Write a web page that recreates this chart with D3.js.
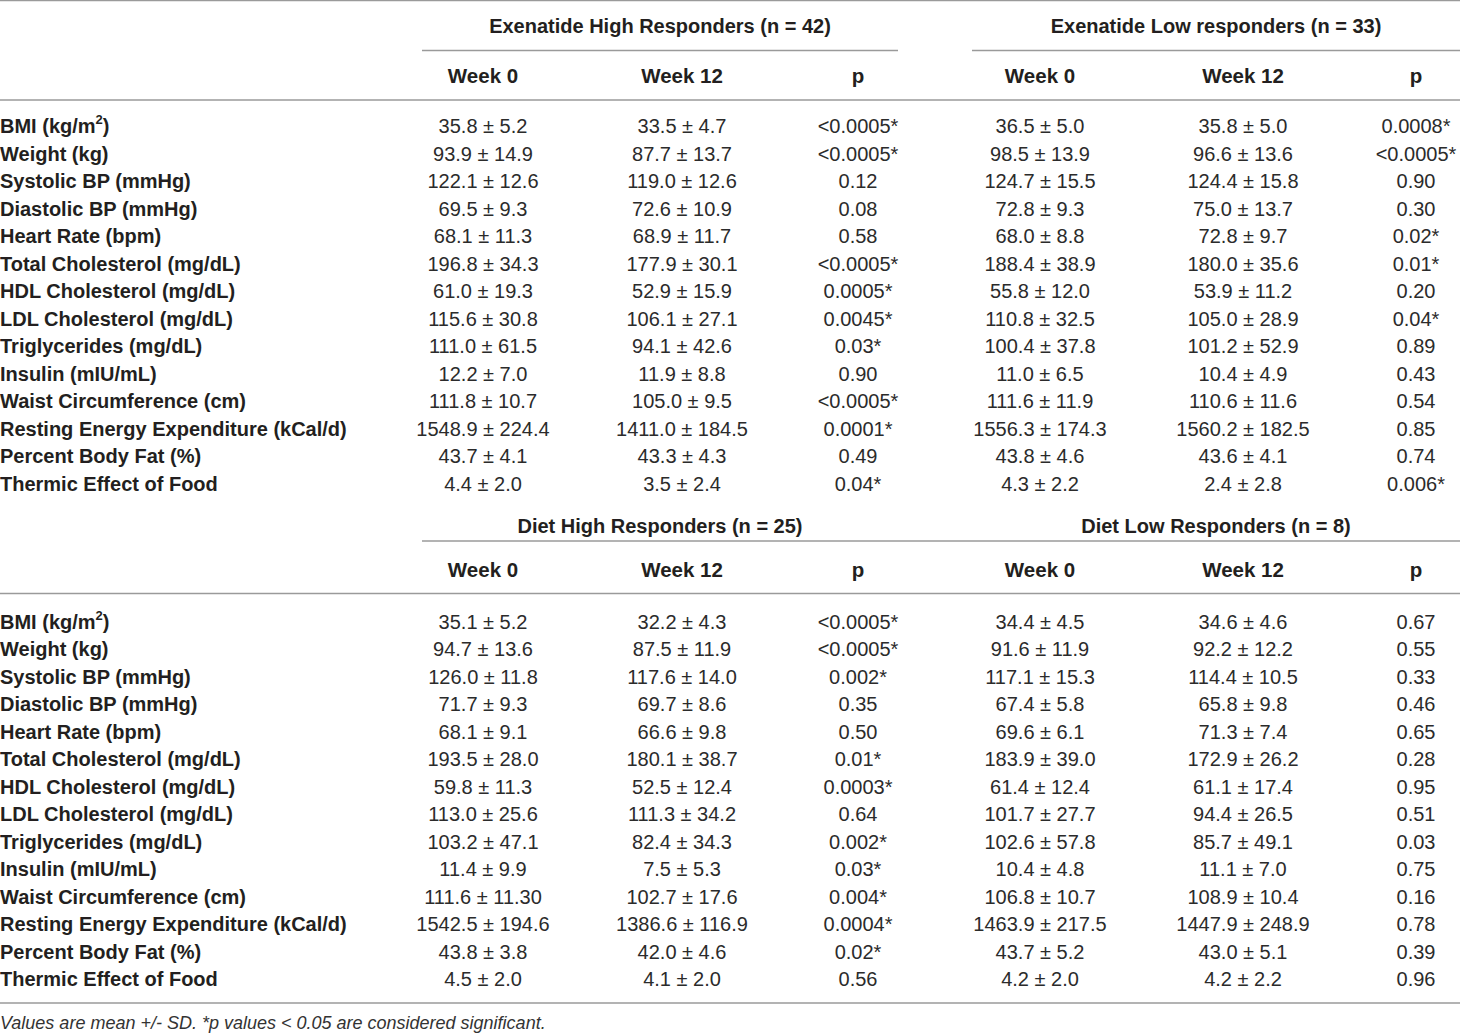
<!DOCTYPE html>
<html>
<head>
<meta charset="utf-8">
<script src="https://cdn.jsdelivr.net/npm/d3@7"></script>
<style>
  body { margin: 0; background: #fff; }
  svg text { font-family: "Liberation Sans", Arial, sans-serif; fill: #231f20; }
</style>
</head>
<body>
<div id="chart"></div>
<script>
var width = 1460, height = 1034;

var variables = ["BMI (kg/m2)", "Weight (kg)", "Systolic BP (mmHg)", "Diastolic BP (mmHg)",
  "Heart Rate (bpm)", "Total Cholesterol (mg/dL)", "HDL Cholesterol (mg/dL)",
  "LDL Cholesterol (mg/dL)", "Triglycerides (mg/dL)", "Insulin (mIU/mL)",
  "Waist Circumference (cm)", "Resting Energy Expenditure (kCal/d)",
  "Percent Body Fat (%)", "Thermic Effect of Food"];

var columns = ["Week 0", "Week 12", "p"];

var groups = ["Exenatide High Responders (n = 42)", "Exenatide Low responders (n = 33)",
  "Diet High Responders (n = 25)", "Diet Low Responders (n = 8)"];

// each row: week 0, week 12, p
var exenatideHigh = [
  ["35.8 ± 5.2", "33.5 ± 4.7", "<0.0005*"],
  ["93.9 ± 14.9", "87.7 ± 13.7", "<0.0005*"],
  ["122.1 ± 12.6", "119.0 ± 12.6", "0.12"],
  ["69.5 ± 9.3", "72.6 ± 10.9", "0.08"],
  ["68.1 ± 11.3", "68.9 ± 11.7", "0.58"],
  ["196.8 ± 34.3", "177.9 ± 30.1", "<0.0005*"],
  ["61.0 ± 19.3", "52.9 ± 15.9", "0.0005*"],
  ["115.6 ± 30.8", "106.1 ± 27.1", "0.0045*"],
  ["111.0 ± 61.5", "94.1 ± 42.6", "0.03*"],
  ["12.2 ± 7.0", "11.9 ± 8.8", "0.90"],
  ["111.8 ± 10.7", "105.0 ± 9.5", "<0.0005*"],
  ["1548.9 ± 224.4", "1411.0 ± 184.5", "0.0001*"],
  ["43.7 ± 4.1", "43.3 ± 4.3", "0.49"],
  ["4.4 ± 2.0", "3.5 ± 2.4", "0.04*"]
];

var exenatideLow = [
  ["36.5 ± 5.0", "35.8 ± 5.0", "0.0008*"],
  ["98.5 ± 13.9", "96.6 ± 13.6", "<0.0005*"],
  ["124.7 ± 15.5", "124.4 ± 15.8", "0.90"],
  ["72.8 ± 9.3", "75.0 ± 13.7", "0.30"],
  ["68.0 ± 8.8", "72.8 ± 9.7", "0.02*"],
  ["188.4 ± 38.9", "180.0 ± 35.6", "0.01*"],
  ["55.8 ± 12.0", "53.9 ± 11.2", "0.20"],
  ["110.8 ± 32.5", "105.0 ± 28.9", "0.04*"],
  ["100.4 ± 37.8", "101.2 ± 52.9", "0.89"],
  ["11.0 ± 6.5", "10.4 ± 4.9", "0.43"],
  ["111.6 ± 11.9", "110.6 ± 11.6", "0.54"],
  ["1556.3 ± 174.3", "1560.2 ± 182.5", "0.85"],
  ["43.8 ± 4.6", "43.6 ± 4.1", "0.74"],
  ["4.3 ± 2.2", "2.4 ± 2.8", "0.006*"]
];

var dietHigh = [
  ["35.1 ± 5.2", "32.2 ± 4.3", "<0.0005*"],
  ["94.7 ± 13.6", "87.5 ± 11.9", "<0.0005*"],
  ["126.0 ± 11.8", "117.6 ± 14.0", "0.002*"],
  ["71.7 ± 9.3", "69.7 ± 8.6", "0.35"],
  ["68.1 ± 9.1", "66.6 ± 9.8", "0.50"],
  ["193.5 ± 28.0", "180.1 ± 38.7", "0.01*"],
  ["59.8 ± 11.3", "52.5 ± 12.4", "0.0003*"],
  ["113.0 ± 25.6", "111.3 ± 34.2", "0.64"],
  ["103.2 ± 47.1", "82.4 ± 34.3", "0.002*"],
  ["11.4 ± 9.9", "7.5 ± 5.3", "0.03*"],
  ["111.6 ± 11.30", "102.7 ± 17.6", "0.004*"],
  ["1542.5 ± 194.6", "1386.6 ± 116.9", "0.0004*"],
  ["43.8 ± 3.8", "42.0 ± 4.6", "0.02*"],
  ["4.5 ± 2.0", "4.1 ± 2.0", "0.56"]
];

var dietLow = [
  ["34.4 ± 4.5", "34.6 ± 4.6", "0.67"],
  ["91.6 ± 11.9", "92.2 ± 12.2", "0.55"],
  ["117.1 ± 15.3", "114.4 ± 10.5", "0.33"],
  ["67.4 ± 5.8", "65.8 ± 9.8", "0.46"],
  ["69.6 ± 6.1", "71.3 ± 7.4", "0.65"],
  ["183.9 ± 39.0", "172.9 ± 26.2", "0.28"],
  ["61.4 ± 12.4", "61.1 ± 17.4", "0.95"],
  ["101.7 ± 27.7", "94.4 ± 26.5", "0.51"],
  ["102.6 ± 57.8", "85.7 ± 49.1", "0.03"],
  ["10.4 ± 4.8", "11.1 ± 7.0", "0.75"],
  ["106.8 ± 10.7", "108.9 ± 10.4", "0.16"],
  ["1463.9 ± 217.5", "1447.9 ± 248.9", "0.78"],
  ["43.7 ± 5.2", "43.0 ± 5.1", "0.39"],
  ["4.2 ± 2.0", "4.2 ± 2.2", "0.96"]
];

var footnote = "Values are mean +/- SD. *p values < 0.05 are considered significant.";

var svg = d3.select("#chart").append("svg")
  .attr("width", width)
  .attr("height", height);

var lineColor = "#9a9a9a";

// six data columns, left block and right block
var colX = d3.scaleOrdinal()
  .domain(["L0", "L1", "L2", "R0", "R1", "R2"])
  .range([483, 682, 858, 1040, 1243, 1416]);
var groupX = d3.scaleOrdinal().domain(["L", "R"]).range([660, 1216]);

function hline(y, x1, x2) {
  svg.append("line")
    .attr("x1", x1).attr("x2", x2)
    .attr("y1", y).attr("y2", y)
    .attr("stroke", lineColor)
    .attr("stroke-width", 1.3);
}

function section(opts) {
  var leftData = opts.left, rightData = opts.right;
  var rowY = d3.scaleLinear().domain([0, variables.length - 1]).range(opts.rows);

  // group headers
  [["L", opts.names[0]], ["R", opts.names[1]]].forEach(function(g) {
    svg.append("text")
      .attr("x", groupX(g[0]))
      .attr("y", opts.groupY)
      .attr("dy", "0.35em")
      .attr("text-anchor", "middle")
      .attr("font-size", 20)
      .attr("font-weight", 700)
      .text(g[1]);
  });

  // underline under group headers
  if (opts.split) {
    hline(opts.underY, 422, 898);
    hline(opts.underY, 972, 1460);
  } else {
    hline(opts.underY, 422, 1460);
  }

  // column headers
  ["L", "R"].forEach(function(side) {
    columns.forEach(function(c, i) {
      svg.append("text")
        .attr("x", colX(side + i))
        .attr("y", opts.headY)
        .attr("dy", "0.35em")
        .attr("text-anchor", "middle")
        .attr("font-size", 20.5)
        .attr("font-weight", 700)
        .text(c);
    });
  });

  hline(opts.lineY, 0, 1460);

  // row labels
  var labels = svg.append("g").selectAll("text")
    .data(variables)
    .enter().append("text")
    .attr("x", 0)
    .attr("y", function(d, i) { return rowY(i); })
    .attr("dy", "0.35em")
    .attr("font-size", 20)
    .attr("font-weight", 700);

  labels.each(function(d) {
    var t = d3.select(this);
    if (d === "BMI (kg/m2)") {
      t.append("tspan").text("BMI (kg/m");
      t.append("tspan").attr("font-size", 13).attr("dy", "-0.7em").text("2");
      t.append("tspan").attr("dy", "0.45em").text(")");
    } else {
      t.text(d);
    }
  });

  // cells
  [["L", leftData], ["R", rightData]].forEach(function(block) {
    var side = block[0];
    block[1].forEach(function(row, ri) {
      row.forEach(function(val, ci) {
        svg.append("text")
          .attr("x", colX(side + ci))
          .attr("y", rowY(ri))
          .attr("dy", "0.35em")
          .attr("text-anchor", "middle")
          .attr("font-size", 20)
          .attr("font-weight", 400)
          .style("fill", "#2b2b2b")
          .text(val);
      });
    });
  });
}

hline(0.7, 0, 1460);

section({
  names: [groups[0], groups[1]],
  left: exenatideHigh, right: exenatideLow,
  groupY: 26, underY: 50.5, headY: 76, lineY: 100,
  rows: [126, 484], split: true
});

section({
  names: [groups[2], groups[3]],
  left: dietHigh, right: dietLow,
  groupY: 526, underY: 541, headY: 570, lineY: 593.5,
  rows: [622, 979], split: false
});

hline(1003, 0, 1460);

svg.append("text")
  .attr("x", 0)
  .attr("y", 1023)
  .attr("dy", "0.35em")
  .attr("font-size", 18)
  .attr("font-style", "italic")
  .style("fill", "#333")
  .text(footnote);
</script>
</body>
</html>
